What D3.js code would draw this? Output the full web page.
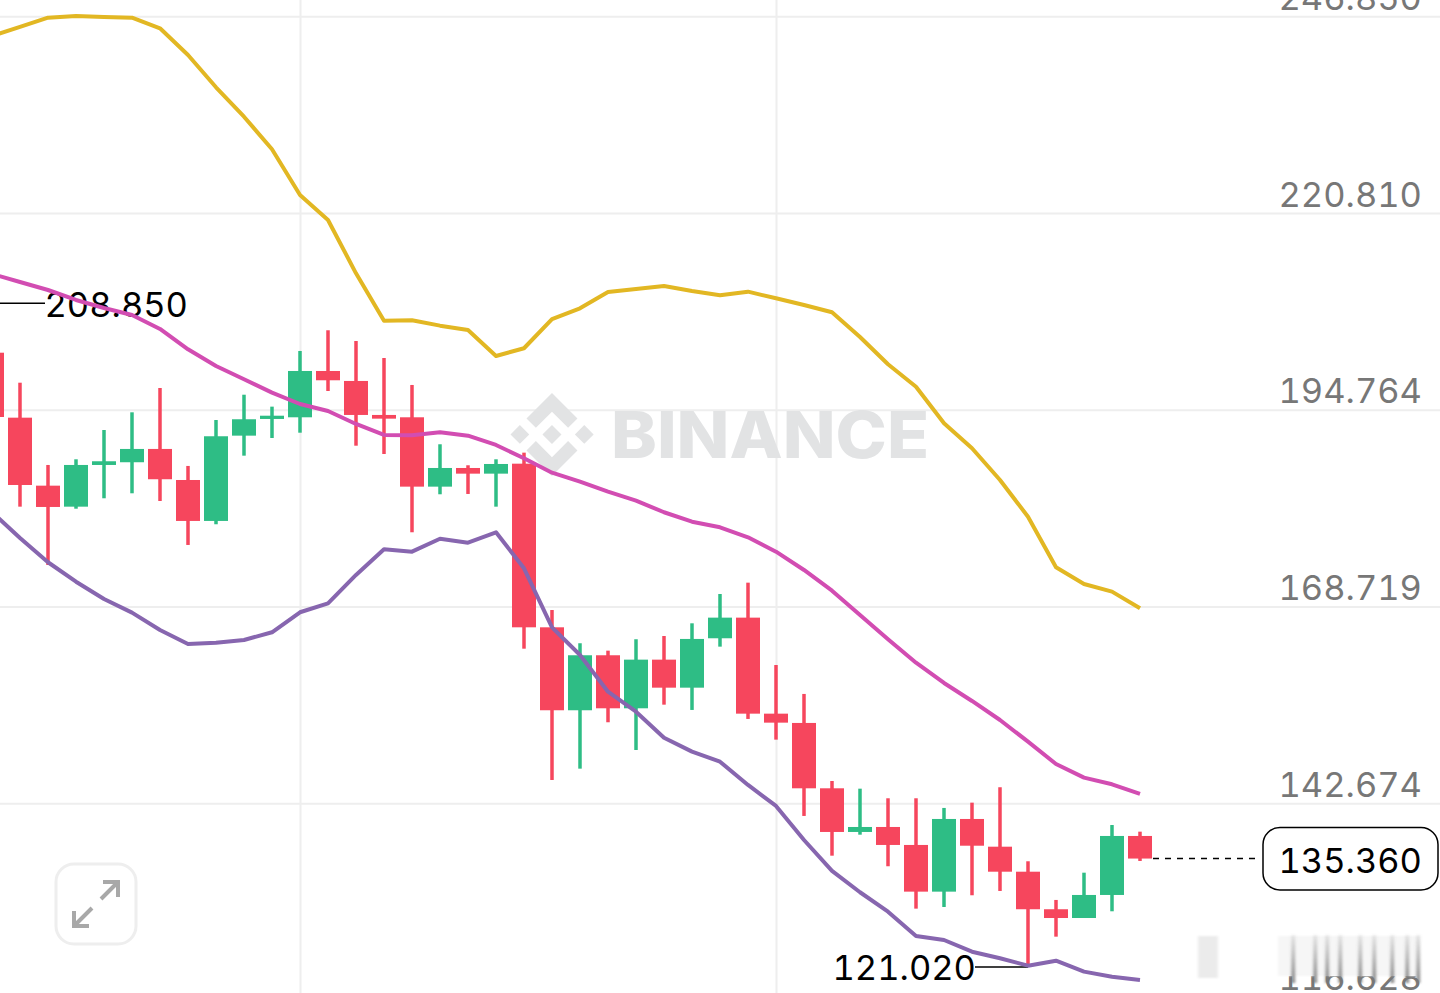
<!DOCTYPE html>
<html>
<head>
<meta charset="utf-8">
<title>BINANCE chart</title>
<script src="https://cdn.jsdelivr.net/npm/d3@7/dist/d3.min.js"></script>
<style>
  html, body { margin: 0; padding: 0; background: #fff; overflow: hidden; }
  svg { display: block; }
  text { font-family: Inter, sans-serif; }
  .price { font-size: 34.5px; font-variant-numeric: tabular-nums; }
</style>
</head>
<body>
<script>
// candle values, one entry per candle
const opens = [202.32,193.72,184.72,181.94,187.46,187.82,189.58,185.47,180.05,191.34,193.55,193.77,199.90,198.58,194.08,193.77,184.59,187.06,186.31,187.63,165.97,154.99,162.27,155.25,161.69,157.98,164.52,167.25,154.54,153.31,144.66,138.88,139.54,137.16,130.98,140.60,136.93,133.62,128.65,127.49,130.54,138.35];
const highs = [208.85,198.35,187.46,188.21,192.09,194.43,197.65,187.33,193.41,196.76,195.18,202.55,205.29,203.87,201.62,198.05,190.20,187.42,188.21,189.09,168.26,163.86,162.88,164.39,164.82,166.50,170.38,171.88,160.98,157.15,145.63,144.61,143.34,143.34,142.06,142.76,144.80,135.00,129.88,133.49,139.80,138.92];
const lows = [191.00,181.94,174.22,181.67,183.05,183.71,182.69,176.87,179.61,188.69,191.03,191.73,197.25,190.01,188.91,178.55,183.58,183.62,181.94,163.14,145.76,147.26,153.40,149.73,155.73,155.03,163.41,153.84,151.10,141.00,135.74,138.52,134.34,128.73,128.95,130.50,131.07,121.02,125.02,127.49,128.38,135.04];
const closes = [193.81,184.81,181.90,187.46,187.95,189.58,185.57,180.05,191.26,193.51,193.98,199.90,198.67,194.08,193.59,184.59,187.06,186.31,187.59,165.97,154.99,162.27,155.25,161.69,157.98,164.43,167.25,154.54,153.35,144.66,138.88,139.54,137.16,130.98,140.60,137.06,133.62,128.65,127.49,130.54,138.35,135.36];

// the three bands
const upperBand = [244.24,245.44,246.67,246.89,246.76,246.67,245.26,241.73,237.45,233.56,229.25,223.20,219.89,212.83,206.56,206.61,205.90,205.33,201.89,202.91,206.78,208.20,210.36,210.76,211.15,210.49,209.92,210.40,209.52,208.64,207.67,204.40,200.79,197.82,192.98,189.67,185.47,180.61,173.92,171.71,170.69,168.49];
const middleBand = [212.74,211.68,210.62,209.30,208.24,207.31,205.46,202.77,200.56,198.80,197.03,195.53,194.61,192.89,191.43,191.39,191.79,191.34,190.11,188.34,186.44,185.25,183.92,182.73,181.20,179.95,179.21,177.89,175.98,173.56,170.82,167.60,164.39,161.29,158.60,156.22,153.70,150.83,147.88,146.07,145.19,143.91];
const lowerBand = [181.24,177.79,174.58,172.01,169.72,167.91,165.62,163.76,163.94,164.29,165.31,167.96,169.15,172.90,176.30,175.98,177.70,177.17,178.55,173.78,165.97,162.31,157.45,154.80,151.36,149.51,148.18,145.10,142.32,137.82,133.72,130.90,128.33,125.11,124.58,123.03,122.16,121.18,121.84,120.39,119.72,119.29];

const yTicks = [246.85, 220.81, 194.764, 168.719, 142.674, 116.628];
const xGridCandles = [11, 28];
const highPrice = 208.85, highIndex = 0;
const lowPrice = 121.02, lowIndex = 37;
const lastPrice = 135.36, lastIndex = 41;

const width = 1440, height = 993;
const red = "#F6465D", green = "#2EBD85";

const svg = d3.select("body").append("svg")
    .attr("width", width)
    .attr("height", height);

const x = d3.scaleLinear().domain([0, 41]).range([-8, 1140]);
const y = d3.scaleLinear().domain([246.85, 142.674]).range([16.3, 803.3]);

// grid and price labels
const yAxis = svg.append("g")
    .call(d3.axisRight(y).tickValues(yTicks).tickSize(width).tickFormat(d3.format(".3f")));
yAxis.select(".domain").remove();
yAxis.selectAll("line").attr("stroke", "#EEEEEE").attr("stroke-width", 2);
yAxis.selectAll("text")
    .attr("class", "price")
    .attr("x", 1422)
    .attr("y", d => d === 116.628 ? -11 : -7)
    .attr("dy", 0)
    .attr("text-anchor", "end")
    .attr("fill", "#777777")
    .style("font-family", "Inter, sans-serif");

const xAxis = svg.append("g")
    .call(d3.axisBottom(x).tickValues(xGridCandles).tickSize(height).tickFormat(""));
xAxis.select(".domain").remove();
xAxis.selectAll("line").attr("stroke", "#EEEEEE").attr("stroke-width", 2);

// watermark
const mark = svg.append("g").attr("fill", "#E2E3E4");
mark.append("path")
    .attr("transform", "translate(510.5,393) scale(0.655)")
    .attr("d", "M38.73 53.2l24.59-24.58 24.6 24.6 14.3-14.31L63.32 0 24.42 38.9zM0 63.31l14.3-14.31 14.31 14.31-14.31 14.3zM38.73 73.41l24.59 24.59 24.6-24.6 14.31 14.29-38.9 38.91-38.91-38.88-.02-.02zM98.32 63.31l14.3-14.31 14.31 14.31-14.31 14.3zM77.83 63.3L63.32 48.78 52.59 59.51l-1.24 1.23-2.54 2.54 14.51 14.5 14.5-14.47z");
mark.append("text")
    .attr("x", 611)
    .attr("y", 458)
    .attr("textLength", 318)
    .attr("lengthAdjust", "spacingAndGlyphs")
    .style("font-family", "Inter, sans-serif")
    .style("font-weight", 800)
    .style("font-size", "64px")
    .text("BINANCE");

// candles
const candles = svg.append("g");
opens.forEach(function(open, i) {
    const color = closes[i] >= open ? green : red;
    candles.append("line")
        .attr("x1", x(i)).attr("x2", x(i))
        .attr("y1", y(highs[i])).attr("y2", y(lows[i]))
        .attr("stroke", color)
        .attr("stroke-width", 3.5);
    candles.append("rect")
        .attr("x", x(i) - 12)
        .attr("width", 24)
        .attr("y", y(Math.max(open, closes[i])))
        .attr("height", Math.abs(y(open) - y(closes[i])))
        .attr("fill", color);
});

// high, low and last price labels
const notes = svg.append("g").attr("fill", "#000");
notes.append("line")
    .attr("x1", x(highIndex)).attr("x2", 45)
    .attr("y1", y(highPrice)).attr("y2", y(highPrice))
    .attr("stroke", "#000")
    .attr("stroke-width", 1.5);
notes.append("text")
    .attr("class", "price")
    .attr("x", 44.5)
    .attr("y", y(highPrice) + 13.5)
    .text(d3.format(".3f")(highPrice));
notes.append("line")
    .attr("x1", x(lowIndex)).attr("x2", 975)
    .attr("y1", y(lowPrice)).attr("y2", y(lowPrice))
    .attr("stroke", "#000")
    .attr("stroke-width", 1.5);
notes.append("text")
    .attr("class", "price")
    .attr("x", 976)
    .attr("y", y(lowPrice) + 13)
    .attr("text-anchor", "end")
    .text(d3.format(".3f")(lowPrice));

notes.append("line")
    .attr("x1", x(lastIndex) + 13).attr("x2", 1258)
    .attr("y1", y(lastPrice)).attr("y2", y(lastPrice))
    .attr("stroke", "#000")
    .attr("stroke-width", 1.5)
    .attr("stroke-dasharray", "6,6");
notes.append("rect")
    .attr("x", 1263).attr("y", 827.5)
    .attr("width", 175).attr("height", 62.5)
    .attr("rx", 17)
    .attr("fill", "#fff")
    .attr("stroke", "#000")
    .attr("stroke-width", 1.5);
notes.append("text")
    .attr("class", "price")
    .attr("x", 1422)
    .attr("y", y(lastPrice) + 14.5)
    .attr("text-anchor", "end")
    .text(d3.format(".3f")(lastPrice));

// bands, on top of the candles
const line = d3.line().x((d, i) => x(i)).y(d => y(d));
[[upperBand, "#E2B723"], [middleBand, "#D24DB2"], [lowerBand, "#8766AF"]].forEach(function(band) {
    svg.append("path")
        .datum(band[0])
        .attr("d", line)
        .attr("fill", "none")
        .attr("stroke", band[1])
        .attr("stroke-width", 4)
        .attr("stroke-linejoin", "round");
});

// expand button
const button = svg.append("g");
button.append("rect")
    .attr("x", 56).attr("y", 864)
    .attr("width", 80).attr("height", 80)
    .attr("rx", 18)
    .attr("fill", "#fff")
    .attr("stroke", "#EEEEEE")
    .attr("stroke-width", 3);
button.append("path")
    .attr("d", "M101 899L118 882M103 882H118V897M92 908L74 926M74 911V926H89")
    .attr("fill", "none")
    .attr("stroke", "#A8A8A8")
    .attr("stroke-width", 4);

// smeared patch over the lowest label
const defs = svg.append("defs");
defs.append("filter").attr("id", "smear")
    .append("feGaussianBlur").attr("stdDeviation", "1.5 1");
const fade = defs.append("linearGradient").attr("id", "fade")
    .attr("gradientUnits", "userSpaceOnUse")
    .attr("x1", 0).attr("x2", 0).attr("y1", 935).attr("y2", 982);
fade.append("stop").attr("offset", 0).attr("stop-color", "#777").attr("stop-opacity", 0.15);
fade.append("stop").attr("offset", 1).attr("stop-color", "#777").attr("stop-opacity", 0.95);
svg.append("rect")
    .attr("x", 1190).attr("y", 931)
    .attr("width", 250).attr("height", 45)
    .attr("fill", "#fff");
svg.append("rect")
    .attr("x", 1198).attr("y", 936)
    .attr("width", 20).attr("height", 42)
    .attr("fill", "#EBEBEB")
    .attr("filter", "url(#smear)");
svg.append("rect")
    .attr("x", 1278).attr("y", 936)
    .attr("width", 142).attr("height", 40)
    .attr("fill", "#F6F6F6")
    .attr("filter", "url(#smear)");
const smear = svg.append("g").attr("filter", "url(#smear)");
[1293, 1315, 1327, 1340, 1360, 1374, 1392, 1407, 1418].forEach(function(px) {
    smear.append("rect")
        .attr("x", px - 1.5).attr("y", 935)
        .attr("width", 3.5).attr("height", 48)
        .attr("fill", "url(#fade)");
});
</script>
</body>
</html>
